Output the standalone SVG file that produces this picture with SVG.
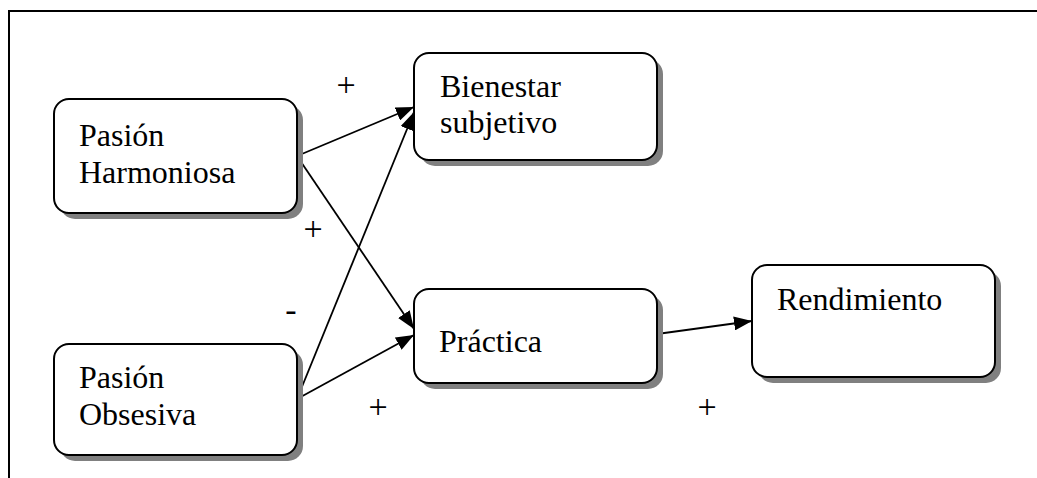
<svg xmlns="http://www.w3.org/2000/svg" width="1037" height="478" viewBox="0 0 1037 478">
<style>
.frame{fill:none;stroke:#000;stroke-width:2}
.shadow{fill:#808080;stroke:none}
.box{fill:#fff;stroke:#000;stroke-width:2}
text{font-family:'Liberation Serif','Times New Roman','DejaVu Serif',serif;fill:#000}
.t{font-size:32px}
.lbl{font-size:34px;text-anchor:middle}
.edge{fill:none;stroke:#000;stroke-width:1.8}
</style>
<defs>
<marker id="arr" viewBox="0 0 18 14" refX="18" refY="7" markerWidth="18" markerHeight="14" markerUnits="userSpaceOnUse" orient="auto">
<path d="M0,0 L18,7 L0,14 z" fill="#000"/>
</marker>
</defs>
<rect width="1037" height="478" fill="#fff"/>
<path class="frame" d="M9,478 L9,11 L1037,11"/>
<g id="connectors">
<line class="edge" x1="297" y1="156" x2="414" y2="107" marker-end="url(#arr)"/>
<line class="edge" x1="297" y1="156" x2="414" y2="329" marker-end="url(#arr)"/>
<line class="edge" x1="297" y1="399" x2="414" y2="112" marker-end="url(#arr)"/>
<line class="edge" x1="297" y1="399" x2="414" y2="335" marker-end="url(#arr)"/>
<line class="edge" x1="657" y1="334" x2="752" y2="321" marker-end="url(#arr)"/>
</g>
<g id="labels">
<text class="lbl" x="346" y="96">+</text>
<text class="lbl" x="313" y="240">+</text>
<text class="lbl" x="291" y="321">-</text>
<text class="lbl" x="378" y="418">+</text>
<text class="lbl" x="707" y="418">+</text>
</g>
<g id="pasion-harmoniosa">
<rect class="shadow" x="60" y="105" width="243" height="114" rx="15"/>
<rect class="box" x="54" y="99" width="243" height="114" rx="15"/>
<text class="t" x="79" y="146">Pasión</text>
<text class="t" x="79" y="183">Harmoniosa</text>
</g>
<g id="bienestar-subjetivo">
<rect class="shadow" x="420" y="59" width="243" height="107" rx="15"/>
<rect class="box" x="414" y="53" width="243" height="107" rx="15"/>
<text class="t" x="440" y="97">Bienestar</text>
<text class="t" x="440" y="133">subjetivo</text>
</g>
<g id="practica">
<rect class="shadow" x="420" y="295" width="243" height="94" rx="15"/>
<rect class="box" x="414" y="289" width="243" height="94" rx="15"/>
<text class="t" x="439" y="352">Práctica</text>
</g>
<g id="rendimiento">
<rect class="shadow" x="758" y="271" width="243" height="112" rx="15"/>
<rect class="box" x="752" y="265" width="243" height="112" rx="15"/>
<text class="t" x="777" y="310">Rendimiento</text>
</g>
<g id="pasion-obsesiva">
<rect class="shadow" x="60" y="350" width="243" height="111" rx="15"/>
<rect class="box" x="54" y="344" width="243" height="111" rx="15"/>
<text class="t" x="79" y="388">Pasión</text>
<text class="t" x="79" y="425">Obsesiva</text>
</g>
</svg>
